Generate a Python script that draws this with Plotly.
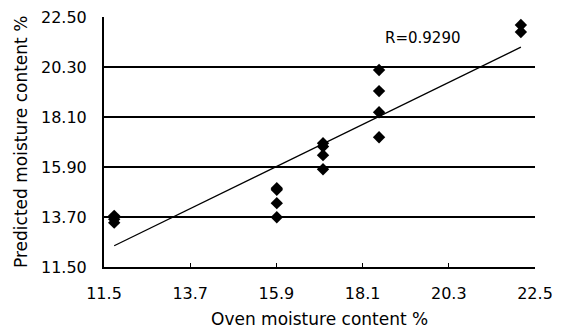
import numpy as np
import plotly.graph_objects as go

oven_mc = [11.76, 11.76, 11.76,
           15.91, 15.91, 15.91, 15.91,
           17.09, 17.09, 17.09, 17.09,
           18.52, 18.52, 18.52, 18.52,
           22.14, 22.14]
predicted_mc = [13.75, 13.6, 13.45,
                14.97, 14.9, 14.31, 13.69,
                16.95, 16.8, 16.42, 15.80,
                20.17, 19.24, 18.31, 17.21,
                22.15, 21.84]
x_ticks = [11.5, 13.7, 15.9, 18.1, 20.3, 22.5]
x_tick_text = ["11.5", "13.7", "15.9", "18.1", "20.3", "22.5"]
y_ticks = [11.5, 13.7, 15.9, 18.1, 20.3, 22.5]
y_tick_text = ["11.50", "13.70", "15.90", "18.10", "20.30", "22.50"]
r_label = "R=0.9290"
x_title = "Oven moisture content %"
y_title = "Predicted moisture content %"

x = np.array(oven_mc)
y = np.array(predicted_mc)
slope, intercept = np.polyfit(x, y, 1)
xl = np.array([x.min(), x.max()])
yl = slope * xl + intercept

font = "DejaVu Sans, sans-serif"
fig = go.Figure()
fig.add_trace(go.Scatter(x=xl, y=yl, mode="lines",
                         line=dict(color="black", width=1.3), showlegend=False))
fig.add_trace(go.Scatter(x=oven_mc, y=predicted_mc, mode="markers",
                         marker=dict(symbol="diamond", size=9.5, color="black"),
                         showlegend=False))
fig.add_annotation(x=0.74, y=0.915, xref="paper", yref="paper", text=r_label,
                   showarrow=False, font=dict(family=font, size=15, color="black"),
                   xanchor="center", yanchor="middle")
fig.add_annotation(x=0.5, y=0, xref="paper", yref="paper", text=x_title,
                   showarrow=False, font=dict(family=font, size=17, color="black"),
                   xanchor="center", yanchor="middle", yshift=-52)
fig.add_annotation(x=0, y=0.5, xref="paper", yref="paper", text=y_title,
                   showarrow=False, font=dict(family=font, size=17, color="black"),
                   textangle=-90, xanchor="center", yanchor="middle", xshift=-83)
fig.update_layout(
    width=568, height=329,
    margin=dict(l=104, r=33, t=17, b=62),
    paper_bgcolor="white", plot_bgcolor="white",
    font=dict(family=font, size=16, color="black"),
    xaxis=dict(range=[11.5, 22.5], tickvals=x_ticks, ticktext=x_tick_text,
               showgrid=False, zeroline=False, showline=True, linecolor="black",
               linewidth=2, ticks="inside", ticklen=4, tickcolor="black",
               automargin=False, ticklabelstandoff=11,
               tickfont=dict(size=16)),
    yaxis=dict(range=[11.5, 22.5], tickvals=y_ticks, ticktext=y_tick_text,
               showgrid=True, gridcolor="black", gridwidth=1.6,
               zeroline=False, showline=True, linecolor="black",
               linewidth=2, ticks="inside", ticklen=4, tickcolor="black",
               automargin=False, ticklabelstandoff=12,
               tickfont=dict(size=16)),
)
fig.write_html("out.html", config={"displayModeBar": False},
               post_script="document.body.style.margin='0';document.body.style.overflow='hidden';")
